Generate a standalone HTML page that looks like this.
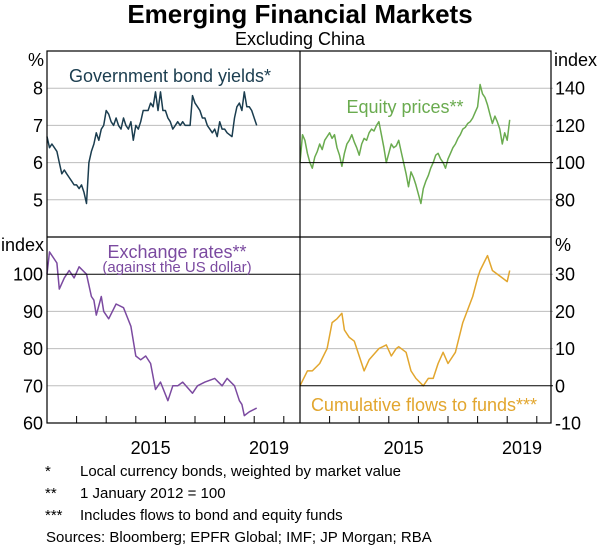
<!DOCTYPE html>
<html><head><meta charset="utf-8"><style>
body{margin:0;background:#fff;}
svg text{font-family:"Liberation Sans",Arial,sans-serif;}
</style></head><body>
<svg id="c" width="600" height="545" xmlns="http://www.w3.org/2000/svg">
<text x="300" y="23" text-anchor="middle" font-size="26" font-weight="bold">Emerging Financial Markets</text>
<text x="300" y="45" text-anchor="middle" font-size="18">Excluding China</text>
<g id="grid"></g>
<g id="series"></g>
<g id="frame"></g>
<g id="labels"></g>
<text x="45" y="476" font-size="15">*</text>
<text x="80" y="476" font-size="15">Local currency bonds, weighted by market value</text>
<text x="45" y="498" font-size="15">**</text>
<text x="80" y="498" font-size="15">1 January 2012 = 100</text>
<text x="45" y="520" font-size="15">***</text>
<text x="80" y="520" font-size="15">Includes flows to bond and equity funds</text>
<text x="46" y="542" font-size="15">Sources: Bloomberg; EPFR Global; IMF; JP Morgan; RBA</text>
</svg>
<script>
// months since Jan 2012
const bondMonths=[0,1,2,3,4,5,6,7,8,9,10,11,12,13,14,15,16,17,18,19,20,21,22,23,24,25,26,27,28,29,30,31,32,33,34,35,36,37,38,39,40,41,42,43,44,45,46,47,48,49,50,51,52,53,54,55,56,57,58,59,60,61,62,63,64,65,66,67,68,69,70,71,72,73,74,75,76,77,78,79,80,81,82,83,84,85];
const bondValues=[6.7,6.4,6.5,6.4,6.3,6.0,5.7,5.8,5.7,5.6,5.5,5.4,5.4,5.3,5.4,5.2,4.9,6.0,6.3,6.5,6.8,6.6,6.9,7.0,7.4,7.3,7.1,7.0,7.2,7.0,6.9,7.2,7.0,6.9,7.1,6.6,7.0,6.9,7.1,7.4,7.4,7.4,7.6,7.5,7.9,7.4,7.9,7.4,7.4,7.2,7.1,6.9,7.0,7.1,7.0,7.1,7.0,7.0,7.0,7.8,7.6,7.5,7.4,7.2,7.2,7.0,6.9,6.8,6.9,6.7,7.1,6.9,6.9,6.8,6.75,6.7,7.2,7.5,7.6,7.4,7.9,7.5,7.5,7.4,7.2,7.0];
const eqMonths=bondMonths;
const eqValues=[100,115,112,105,100,97,103,106,110,107,112,114,116,113,115,108,104,98,105,110,112,115,111,108,104,110,113,112,116,118,117,120,122,115,108,100,105,110,108,109,112,106,100,94,87,95,92,88,83,78,86,90,93,97,100,104,105,102,100,97,102,105,108,110,113,115,118,119,121,122,124,127,130,142,137,135,131,126,121,125,122,118,110,116,112,123];
const fxMonths=[0,1,4,5,7,9,11,13,16,18,19,20,22,23,25,28,31,34,36,38,40,42,44,46,49,51,53,55,59,61,64,68,71,73,76,78,79,80,82,85];
const fxValues=[100,106,103,96,99,101,99,102,100,94,93,89,94,90,88,92,91,86,78,77,78,76,69,71,66,70,70,71,68,70,71,72,70,72,70,66,65,62,63,64];
const flowMonths=[0,3,5,8,11,13,15,17,18,20,22,24,26,28,32,35,37,39,40,43,45,47,50,52,54,56,58,60,63,66,70,72,73,76,78,82,84,85];
const flowValues=[0,4,4,6,10,17,18,19.5,15,13,12,8,4,7,10,11,8,10,10.5,9,4,2,0,2,2,6,9,6,9,17,24,29,31,35,31,29,28,31];
const leftTicks=[5,6,7,8];
const eqTicks=[80,100,120,140];
const fxTicks=[60,70,80,90,100];
const flowTicks=[-10,0,10,20,30];
const yearLabels=["2015","2019"];
const yearLabelPos=[2015.5,2019.5];

const NS="http://www.w3.org/2000/svg";
const X0=47,XM=300,XR=551,YT=51,YM=237,YB=423;
const PX=29.6;
function el(p,t,a){const e=document.createElementNS(NS,t);for(const k in a)e.setAttribute(k,a[k]);document.getElementById(p).appendChild(e);return e;}
const panels=[
 {x0:X0,y0:YT,y1:YM,min:4,max:9,ticks:leftTicks,months:bondMonths,vals:bondValues,col:"#1b3d4f",side:"L",base:null,name:"bond-yields"},
 {x0:XM,y0:YT,y1:YM,min:60,max:160,ticks:eqTicks,months:eqMonths,vals:eqValues,col:"#6aab4f",side:"R",base:100,name:"equity-prices"},
 {x0:X0,y0:YM,y1:YB,min:60,max:110,ticks:fxTicks,months:fxMonths,vals:fxValues,col:"#7b4aa0",side:"L",base:100,name:"exchange-rates"},
 {x0:XM,y0:YM,y1:YB,min:-10,max:40,ticks:flowTicks,months:flowMonths,vals:flowValues,col:"#e2a62e",side:"R",base:0,name:"cumulative-flows"}
];
panels.forEach(p=>{
 const ys=v=>p.y1-(v-p.min)/(p.max-p.min)*(p.y1-p.y0);
 const xs=m=>p.x0+m/12*PX;
 p.ticks.forEach(t=>{
  const y=ys(t);
  if(t!==p.base && t!==p.min){
   const g=el("grid","line",{x1:p.x0,x2:p.x0+253,y1:y,y2:y,stroke:"#bdbdbd","stroke-width":1});
   
   
  }
  const tx=el("labels","text",{x:p.side=="L"?43:555,y:y+6.5,"font-size":18,"text-anchor":p.side=="L"?"end":"start"});
  tx.textContent=t;
  
  
 });
 if(p.base!==null){
  const b=el("frame","line",{x1:p.x0,x2:p.x0+253,y1:ys(p.base),y2:ys(p.base),stroke:"#000","stroke-width":1});
  
  
 }
 const pts=p.months.map((m,i)=>xs(m).toFixed(1)+","+ys(p.vals[i]).toFixed(1)).join(" ");
 const pl=el("series","polyline",{points:pts,fill:"none",stroke:p.col,"stroke-width":1.5,"stroke-linejoin":"round"});
 
 
 if(p.y1===YB){
  for(let yr=1;yr<=8;yr++){
   const x=xs(yr*12);
   const tk=el("frame","line",{x1:x,x2:x,y1:YB,y2:YB-7,stroke:"#000","stroke-width":1});
   
   
  }
  yearLabels.forEach((l,i)=>{
   const t=el("labels","text",{x:xs((yearLabelPos[i]-2012)*12),y:454,"font-size":18,"text-anchor":"middle"});
   t.textContent=l;
   
   
  });
 }
});
const fr=el("frame","rect",{x:X0,y:YT,width:XR-X0,height:YB-YT,fill:"none",stroke:"#000","stroke-width":1.2});


const v=el("frame","line",{x1:XM,x2:XM,y1:YT,y2:YB,stroke:"#000","stroke-width":1.2});


const h=el("frame","line",{x1:X0,x2:XR,y1:YM,y2:YM,stroke:"#000","stroke-width":1.2});


const texts=[
 ["%",44,66,18,"end","#000","unit-label-top-left"],
 ["index",554,66,18,"start","#000","unit-label-top-right"],
 ["index",44,251,18,"end","#000","unit-label-bottom-left"],
 ["%",555,251,18,"start","#000","unit-label-bottom-right"],
 ["Government bond yields*",170,82,18,"middle","#1b3d4f","bond-yields-label"],
 ["Equity prices**",405,113,18,"middle","#6aab4f","equity-prices-label"],
 ["Exchange rates**",177,258,18,"middle","#7b4aa0","exchange-rates-label"],
 ["(against the US dollar)",177,272,15,"middle","#7b4aa0","exchange-rates-sublabel"],
 ["Cumulative flows to funds***",424,411,18,"middle","#e2a62e","cumulative-flows-label"]
];
texts.forEach(a=>{
 const t=el("labels","text",{x:a[1],y:a[2],"font-size":a[3],"text-anchor":a[4],fill:a[5]});
 t.textContent=a[0];
 
 
});
</script>
</body></html>
